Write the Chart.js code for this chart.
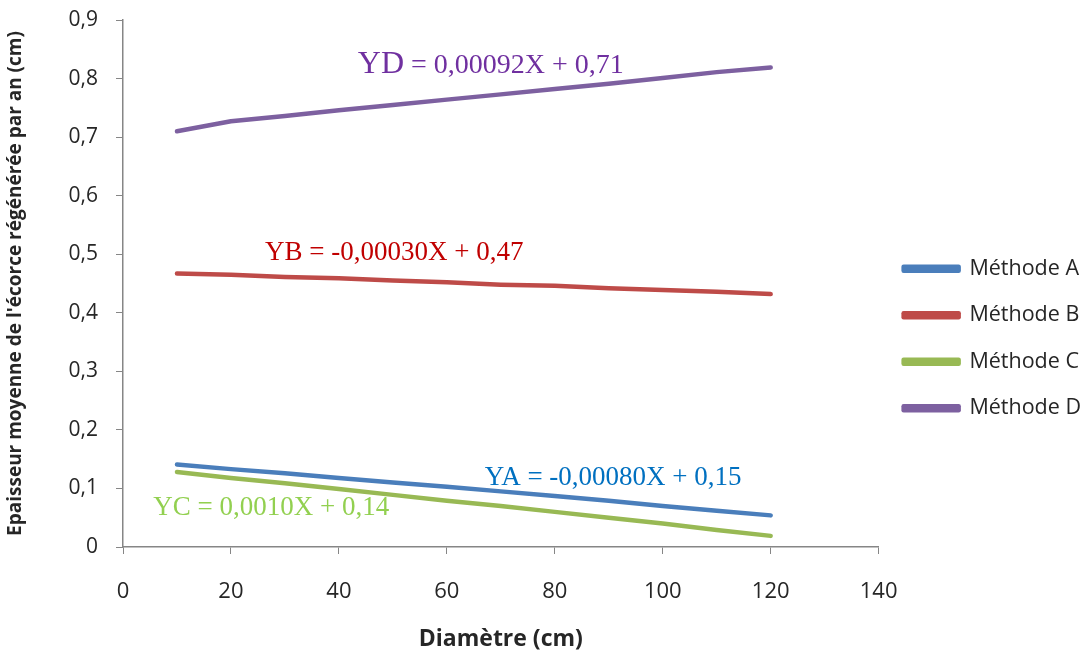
<!DOCTYPE html>
<html>
<head>
<meta charset="utf-8">
<script src="https://cdn.jsdelivr.net/npm/chart.js@4.4.0/dist/chart.umd.min.js"></script>
<style>
  html, body { margin: 0; padding: 0; background: #fff; }
  #wrap { width: 1091px; height: 657px; }
</style>
</head>
<body>
<div id="wrap"><canvas id="chart" width="1091" height="657"></canvas></div>
<script>
// ---- data ----
const diameters = [10, 20, 30, 40, 50, 60, 70, 80, 90, 100, 110, 120];
const methodA = [0.141, 0.133, 0.126, 0.118, 0.110, 0.103, 0.095, 0.087, 0.079, 0.070, 0.062, 0.054];
const methodB = [0.467, 0.465, 0.461, 0.459, 0.455, 0.452, 0.448, 0.446, 0.442, 0.439, 0.436, 0.432];
const methodC = [0.128, 0.118, 0.109, 0.099, 0.089, 0.079, 0.070, 0.060, 0.050, 0.040, 0.029, 0.019];
const methodD = [0.710, 0.727, 0.736, 0.746, 0.755, 0.764, 0.773, 0.782, 0.791, 0.801, 0.811, 0.819];
const seriesNames = ['Méthode A', 'Méthode B', 'Méthode C', 'Méthode D'];
const equations = [
  { head: 'YD', tail: ' = 0,00092X + 0,71', x: 43.5, y: 0.824, color: '#7030a0', big: true },
  { head: 'YB', tail: ' = -0,00030X + 0,47', x: 26.3, y: 0.502, color: '#c00000' },
  { head: 'YA', tail: ' = -0,00080X + 0,15', x: 67, y: 0.118, color: '#0070c0' },
  { head: 'YC', tail: ' = 0,0010X + 0,14', x: 5.6, y: 0.066, color: '#92d050' }
];

const colors = ['#4a7ebb', '#be4b48', '#98b954', '#7d60a0'];
const AXIS = '#868686';
const TXT = '#262626';
const FONT = '"Open Sans", sans-serif';
const SERIF = '"Liberation Serif", "Times New Roman", serif';

const pts = arr => arr.map((v, i) => ({ x: diameters[i], y: v }));

// regression labels drawn at data positions
const eqPlugin = {
  id: 'eqLabels',
  afterDatasetsDraw(chart) {
    const { ctx, scales: { x, y } } = chart;
    ctx.save();
    ctx.textBaseline = 'middle';
    ctx.textAlign = 'left';
    equations.forEach(e => {
      let px = x.getPixelForValue(e.x);
      const py = y.getPixelForValue(e.y);
      ctx.fillStyle = e.color;
      ctx.font = (e.big ? 32 : 27) + 'px ' + SERIF;
      ctx.fillText(e.head, px, py);
      px += ctx.measureText(e.head).width;
      ctx.font = (e.big ? 28 : 27) + 'px ' + SERIF;
      ctx.fillText(e.tail, px, py + (e.big ? 1 : 0));
    });
    ctx.restore();
  }
};

new Chart(document.getElementById('chart'), {
  type: 'scatter',
  data: {
    datasets: [methodA, methodB, methodC, methodD].map((d, i) => ({
      label: seriesNames[i],
      data: pts(d),
      showLine: true,
      borderColor: colors[i],
      backgroundColor: colors[i],
      borderWidth: 4.5,
      borderCapStyle: 'round',
      borderJoinStyle: 'round',
      pointRadius: 0,
      pointHoverRadius: 0
    }))
  },
  options: {
    responsive: false,
    animation: false,
    layout: { padding: { top: 20, right: 0, left: 0, bottom: 0 } },
    plugins: {
      tooltip: { enabled: false },
      legend: {
        position: 'right',
        align: 'center',
        labels: {
          boxWidth: 55,
          boxHeight: 4,
          padding: 25,
          color: TXT,
          font: { family: FONT, size: 21.5 }
        }
      }
    },
    scales: {
      x: {
        type: 'linear',
        min: 0, max: 140,
        ticks: { stepSize: 20, color: TXT, padding: 25, font: { family: FONT, size: 22 } },
        grid: { drawOnChartArea: false, color: AXIS, tickLength: 7 },
        border: { color: AXIS, width: 1.5 },
        title: { display: true, text: 'Diamètre (cm)', color: TXT, padding: { top: 8 },
                 font: { family: FONT, size: 23, weight: 'bold' } },
        afterFit: s => { s.height = 110; }
      },
      y: {
        min: 0, max: 0.9,
        ticks: {
          stepSize: 0.1, color: TXT, padding: 18,
          font: { family: FONT, size: 21 },
          callback: v => (Math.round(v * 10) / 10).toString().replace('.', ',')
        },
        grid: { drawOnChartArea: false, color: AXIS, tickLength: 7 },
        border: { color: AXIS, width: 1.5 },
        title: { display: true, text: "Epaisseur moyenne de l'écorce régénérée par an (cm)", color: TXT, padding: { bottom: 9 },
                 font: { family: FONT, size: 19, weight: 'bold' } },
        afterFit: s => { s.width = 123; s.paddingTop = 0; s.paddingBottom = 0; }
      }
    }
  },
  plugins: [eqPlugin]
});
</script>
</body>
</html>
